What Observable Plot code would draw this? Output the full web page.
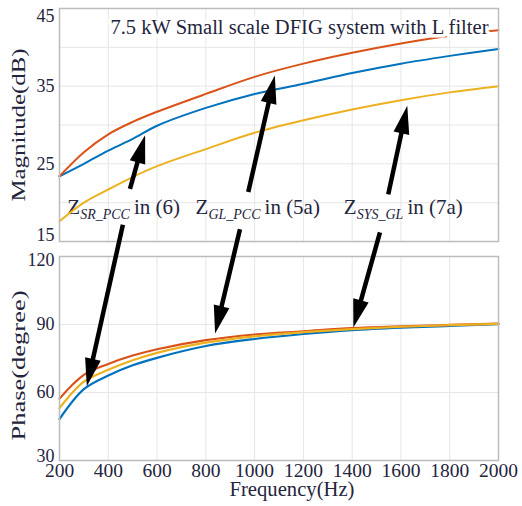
<!DOCTYPE html>
<html>
<head>
<meta charset="utf-8">
<script src="https://cdn.jsdelivr.net/npm/d3@7"></script>
<script src="https://cdn.jsdelivr.net/npm/@observablehq/plot@0.6"></script>
<style>
  body { margin: 0; background: #fff; }
  #chart { position: relative; width: 522px; height: 506px; }
  #chart svg { display: block; }
</style>
</head>
<body>
<div id="chart"></div>
<script>
// ---- data ----
const freq   = [200, 300, 400, 500, 600, 800, 1000, 1200, 1400, 1600, 1800, 2000];
const series = ["Z_SR_PCC", "Z_GL_PCC", "Z_SYS_GL"];
const colors = ["#0072BD", "#D95319", "#EDB120"];

// Magnitude (dB)
const magSR  = [23.4, 25.0, 26.7, 28.2, 29.9, 32.2, 34.0, 35.3, 36.7, 37.9, 38.9, 39.8];
const magGL  = [23.4, 26.5, 28.8, 30.4, 31.7, 34.0, 36.2, 37.9, 39.3, 40.5, 41.5, 42.2];
const magSYS = [17.6, 20.0, 21.7, 23.3, 24.7, 26.9, 29.0, 30.6, 32.0, 33.2, 34.2, 35.0];

// Phase (degree)
const phSR  = [48.3, 61.5, 67.5, 72.0, 75.3, 80.5, 83.6, 85.8, 87.5, 88.6, 89.4, 90.1];
const phGL  = [57.3, 67.8, 72.6, 76.3, 79.1, 83.1, 85.6, 87.0, 88.4, 89.2, 89.8, 90.4];
const phSYS = [53.1, 64.8, 70.0, 74.2, 77.5, 82.0, 84.8, 86.6, 88.0, 89.0, 89.7, 90.3];

// ticks
const xTicks     = [200, 400, 600, 800, 1000, 1200, 1400, 1600, 1800, 2000];
const magTicks   = [15, 25, 35, 45];
const magGrid    = [15, 20, 25, 30, 35, 40, 45];
const phaseTicks = [30, 60, 90, 120];

// annotation texts
const titleText  = "7.5 kW Small scale DFIG system with L filter";
const labelMain  = ["Z", "Z", "Z"];
const labelSub   = ["SR_PCC", "GL_PCC", "SYS_GL"];
const labelTail  = ["in (6)", "in (5a)", "in (7a)"];
const labelFreq  = [232, 758, 1366];
const labelDb    = [18.5, 18.5, 18.5];

// arrows: tail in magnitude panel data units, tip in the target panel
const arrowFromF = [491, 462, 976, 942, 1550, 1516];
const arrowFromV = [21.7, 17.1, 21.3, 16.5, 21.0, 16.1];
const arrowToF   = [553, 314, 1085, 840, 1628, 1407];
const arrowToV   = [28.6, 62.5, 36.3, 85.8, 32.4, 88.5];
const arrowPanel = ["mag", "phase", "mag", "phase", "mag", "phase"];

// ---- build tables ----
const magVals = [magSR, magGL, magSYS];
const phVals  = [phSR, phGL, phSYS];
const magData = series.flatMap((s, k) => freq.map((f, i) => ({freq: f, value: magVals[k][i], series: s})));
const phData  = series.flatMap((s, k) => freq.map((f, i) => ({freq: f, value: phVals[k][i], series: s})));
const labels  = labelMain.map((m, i) => ({main: m, freq: labelFreq[i], db: labelDb[i]}));

const font = "'Liberation Serif', 'Times New Roman', Times, serif";
const textColor = "#24243c";
const gridColor = "#e6e6e6";
const frameColor = "#bcbcbc";

const TOP_H = 248, BOT_H = 258;

const topPlot = Plot.plot({
  width: 522, height: TOP_H,
  marginTop: 8, marginBottom: 7, marginLeft: 59, marginRight: 24,
  style: {fontFamily: font, fontSize: "18px", color: textColor, background: "white", overflow: "visible"},
  x: {domain: [200, 2000], axis: null},
  y: {domain: [15, 45], ticks: magTicks, tickSize: 0, tickPadding: 5, label: null},
  color: {domain: series, range: colors},
  marks: [
    Plot.ruleX(xTicks, {stroke: gridColor}),
    Plot.ruleY(magGrid, {stroke: gridColor}),
    Plot.text(labels, {x: "freq", y: "db", text: "main", textAnchor: "start", lineAnchor: "bottom",
      fontSize: 21, fill: textColor}),
    Plot.line(magData, {x: "freq", y: "value", stroke: "series", strokeWidth: 2, curve: "catmull-rom"}),
    Plot.text([titleText], {x: 409, y: 41.7, text: d => d, textAnchor: "start", lineAnchor: "bottom",
      fontSize: 20, fill: textColor, stroke: "white", strokeWidth: 7}),
    Plot.frame({stroke: frameColor, strokeWidth: 1.5}),
    Plot.text(["Magnitude(dB)"], {frameAnchor: "left", text: d => d, rotate: -90, dx: -40,
      fontSize: 18, fill: textColor})
  ]
});

const botPlot = Plot.plot({
  width: 522, height: BOT_H,
  marginTop: 8, marginBottom: 46, marginLeft: 59, marginRight: 24,
  style: {fontFamily: font, fontSize: "18px", color: textColor, background: "white", overflow: "visible"},
  x: {domain: [200, 2000], ticks: xTicks, tickFormat: d => String(d), tickSize: 0, tickPadding: 3, label: null},
  y: {domain: [30, 120], ticks: phaseTicks, tickSize: 0, tickPadding: 5, label: null},
  color: {domain: series, range: colors},
  marks: [
    Plot.ruleX(xTicks, {stroke: gridColor}),
    Plot.ruleY(phaseTicks, {stroke: gridColor}),
    Plot.line(phData, {x: "freq", y: "value", stroke: "series", strokeWidth: 2.2, curve: "catmull-rom"}),
    Plot.frame({stroke: frameColor, strokeWidth: 1.5}),
    Plot.text(["Phase(degree)"], {frameAnchor: "left", text: d => d, rotate: -90, dx: -40, dy: 7,
      fontSize: 18, fill: textColor}),
    Plot.text(["Frequency(Hz)"], {frameAnchor: "bottom", text: d => d, dx: 13, dy: 35,
      fontSize: 21, fill: textColor})
  ]
});

const chart = document.getElementById("chart");
chart.append(topPlot, botPlot);

const NS = "http://www.w3.org/2000/svg";

// subscripts for Z labels
[...topPlot.querySelectorAll("text")].filter(t => t.textContent === "Z").forEach((t, i) => {
  const sub = document.createElementNS(NS, "tspan");
  sub.textContent = labelSub[i];
  sub.setAttribute("font-style", "italic");
  sub.setAttribute("font-size", "14");
  sub.setAttribute("dy", "5");
  const tail = document.createElementNS(NS, "tspan");
  tail.textContent = labelTail[i];
  tail.setAttribute("dx", "4");
  tail.setAttribute("dy", "-5");
  t.append(sub, tail);
});

// stretch text to reference lengths (centred texts become start-anchored, shifted by half length)
function fitText(svg, content, len, centred) {
  [...svg.querySelectorAll("text")].filter(t => t.textContent === content).forEach(t => {
    if (centred) {
      const x = parseFloat(t.getAttribute("x") || "0");
      t.setAttribute("x", x - len / 2);
      t.setAttribute("text-anchor", "start");
    }
    t.setAttribute("textLength", len);
    t.setAttribute("lengthAdjust", "spacingAndGlyphs");
  });
}
fitText(topPlot, titleText, 378, false);
fitText(topPlot, "Magnitude(dB)", 153, true);
fitText(botPlot, "Phase(degree)", 150, true);
fitText(botPlot, "Frequency(Hz)", 125, true);

// x tick labels a bit larger
botPlot.querySelectorAll('[aria-label^="x-axis"] text').forEach(t => t.style.fontSize = "19.5px");

// edge tick labels nudged inside, as in the reference
function nudge(svg, content, dy) {
  svg.querySelectorAll('[aria-label^="y-axis"] text').forEach(t => {
    if (t.textContent === content) {
      const tr = t.getAttribute("transform") || "";
      t.setAttribute("transform", `${tr} translate(0,${dy})`.trim());
    }
  });
}
nudge(topPlot, "45", 8);
nudge(topPlot, "15", -6);
nudge(botPlot, "120", 4);
nudge(botPlot, "30", -4);

// ---- arrows overlay ----
const xs = topPlot.scale("x");
const yMag = topPlot.scale("y");
const yPh = botPlot.scale("y");
const overlay = d3.select(chart).append("svg")
  .attr("width", 522).attr("height", 506)
  .style("position", "absolute").style("left", 0).style("top", 0)
  .style("pointer-events", "none");

const HEAD_L = 28, HEAD_W = 16;
arrowFromF.forEach((f, i) => {
  const x0 = xs.apply(f), y0 = yMag.apply(arrowFromV[i]);
  const x1 = xs.apply(arrowToF[i]);
  const y1 = arrowPanel[i] === "mag" ? yMag.apply(arrowToV[i]) : TOP_H + yPh.apply(arrowToV[i]);
  const dx = x1 - x0, dy = y1 - y0, L = Math.hypot(dx, dy);
  const ux = dx / L, uy = dy / L, nx = -uy, ny = ux;
  const bx = x1 - ux * HEAD_L, by = y1 - uy * HEAD_L;
  overlay.append("line")
    .attr("x1", x0).attr("y1", y0).attr("x2", bx + ux * 2).attr("y2", by + uy * 2)
    .attr("stroke", "black").attr("stroke-width", 4.5);
  overlay.append("path")
    .attr("d", `M${x1},${y1}L${bx + nx * HEAD_W / 2},${by + ny * HEAD_W / 2}L${bx - nx * HEAD_W / 2},${by - ny * HEAD_W / 2}Z`)
    .attr("fill", "black");
});
</script>
</body>
</html>
